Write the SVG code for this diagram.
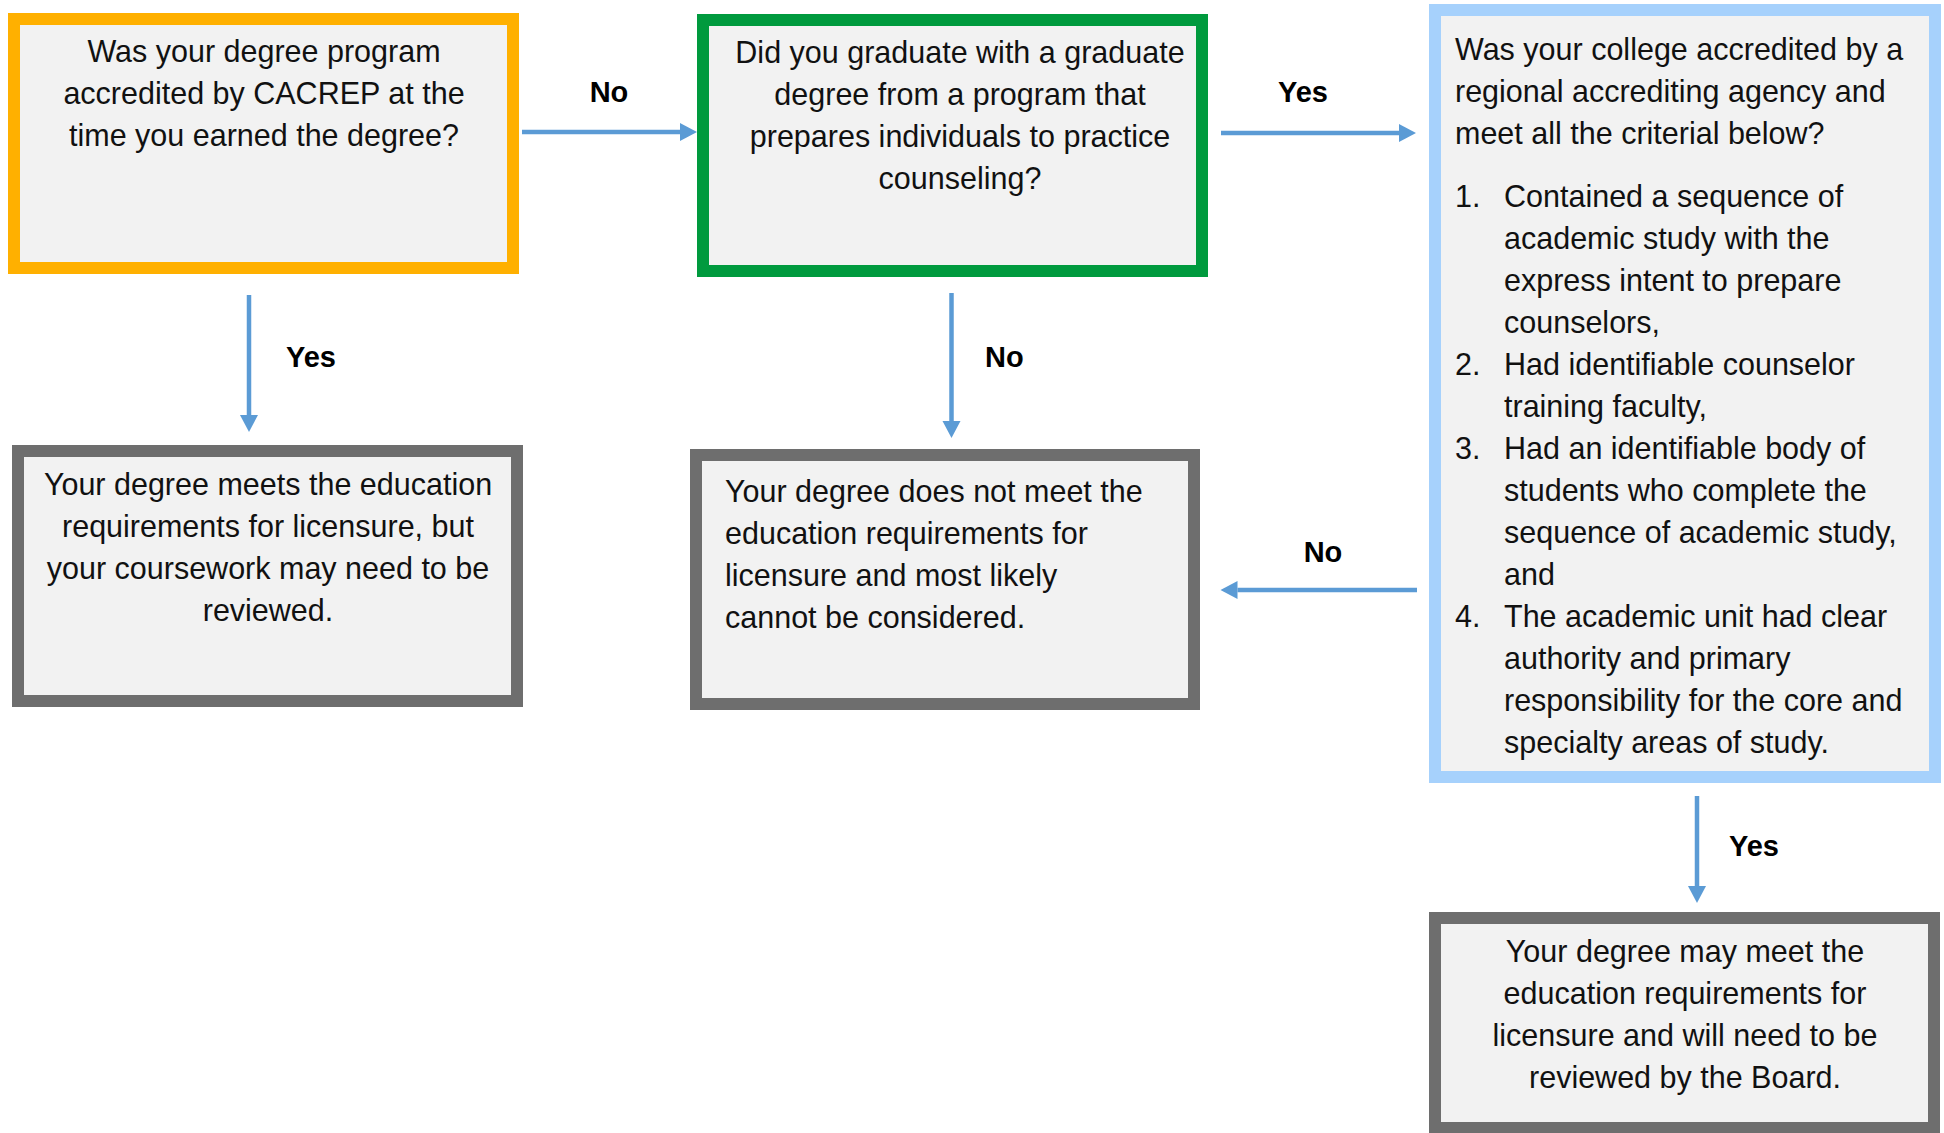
<svg xmlns="http://www.w3.org/2000/svg" width="1944" height="1133" viewBox="0 0 1944 1133">
<style>
.box{fill:#F2F2F2;stroke-width:12}
.q1{stroke:#FFB000}
.q2{stroke:#009A3E}
.q3{stroke:#A6D1FC}
.res{stroke:#6E6E6E}
.t{font-family:"Liberation Sans",Arial,sans-serif;font-size:30.5px;fill:#111}
.c{text-anchor:middle}
.lbl{font-family:"Liberation Sans",Arial,sans-serif;font-size:29px;font-weight:bold;fill:#000}
.conn{stroke:#5B9BD5;stroke-width:4.5;fill:none;marker-end:url(#ah)}
</style>
<defs>
<marker id="ah" markerUnits="userSpaceOnUse" markerWidth="17" markerHeight="18" refX="0" refY="9" orient="auto" overflow="visible">
<path d="M0,0 L17,9 L0,18 Z" fill="#5B9BD5"/>
</marker>
</defs>
<rect width="1944" height="1133" fill="#FFFFFF"/>

<g id="connectors">
<line class="conn" x1="522" y1="132" x2="680" y2="132"/>
<line class="conn" x1="1221" y1="133" x2="1399" y2="133"/>
<line class="conn" x1="249" y1="295" x2="249" y2="415"/>
<line class="conn" x1="951.5" y1="293" x2="951.5" y2="421"/>
<line class="conn" x1="1417" y1="590" x2="1237.5" y2="590"/>
<line class="conn" x1="1697" y1="796" x2="1697" y2="886"/>
<text class="lbl c" x="609" y="102">No</text>
<text class="lbl c" x="1303" y="102">Yes</text>
<text class="lbl" x="286" y="367">Yes</text>
<text class="lbl" x="985" y="367">No</text>
<text class="lbl c" x="1323" y="562">No</text>
<text class="lbl" x="1729" y="856">Yes</text>
</g>

<g id="q-cacrep">
<rect class="box q1" x="14" y="19" width="499" height="249"/>
<text class="t c" x="264" y="62">Was your degree program</text>
<text class="t c" x="264" y="104">accredited by CACREP at the</text>
<text class="t c" x="264" y="146">time you earned the degree?</text>
</g>

<g id="q-graduate">
<rect class="box q2" x="703" y="20" width="499" height="251"/>
<text class="t c" x="960" y="63">Did you graduate with a graduate</text>
<text class="t c" x="960" y="105">degree from a program that</text>
<text class="t c" x="960" y="147">prepares individuals to practice</text>
<text class="t c" x="960" y="189">counseling?</text>
</g>

<g id="q-regional">
<rect class="box q3" x="1435" y="10" width="500" height="767"/>
<text class="t" x="1455" y="60">Was your college accredited by a</text>
<text class="t" x="1455" y="102">regional accrediting agency and</text>
<text class="t" x="1455" y="144">meet all the criterial below?</text>
<text class="t" x="1455" y="207">1.</text>
<text class="t" x="1504" y="207">Contained a sequence of</text>
<text class="t" x="1504" y="249">academic study with the</text>
<text class="t" x="1504" y="291">express intent to prepare</text>
<text class="t" x="1504" y="333">counselors,</text>
<text class="t" x="1455" y="375">2.</text>
<text class="t" x="1504" y="375">Had identifiable counselor</text>
<text class="t" x="1504" y="417">training faculty,</text>
<text class="t" x="1455" y="459">3.</text>
<text class="t" x="1504" y="459">Had an identifiable body of</text>
<text class="t" x="1504" y="501">students who complete the</text>
<text class="t" x="1504" y="543">sequence of academic study,</text>
<text class="t" x="1504" y="585">and</text>
<text class="t" x="1455" y="627">4.</text>
<text class="t" x="1504" y="627">The academic unit had clear</text>
<text class="t" x="1504" y="669">authority and primary</text>
<text class="t" x="1504" y="711">responsibility for the core and</text>
<text class="t" x="1504" y="753">specialty areas of study.</text>
</g>

<g id="r-meets">
<rect class="box res" x="18" y="451" width="499" height="250"/>
<text class="t c" x="268" y="495">Your degree meets the education</text>
<text class="t c" x="268" y="537">requirements for licensure, but</text>
<text class="t c" x="268" y="579">your coursework may need to be</text>
<text class="t c" x="268" y="621">reviewed.</text>
</g>

<g id="r-not-meet">
<rect class="box res" x="696" y="455" width="498" height="249"/>
<text class="t" x="725" y="502">Your degree does not meet the</text>
<text class="t" x="725" y="544">education requirements for</text>
<text class="t" x="725" y="586">licensure and most likely</text>
<text class="t" x="725" y="628">cannot be considered.</text>
</g>

<g id="r-may-meet">
<rect class="box res" x="1435" y="918" width="499" height="210"/>
<text class="t c" x="1685" y="962">Your degree may meet the</text>
<text class="t c" x="1685" y="1004">education requirements for</text>
<text class="t c" x="1685" y="1046">licensure and will need to be</text>
<text class="t c" x="1685" y="1088">reviewed by the Board.</text>
</g>
</svg>
